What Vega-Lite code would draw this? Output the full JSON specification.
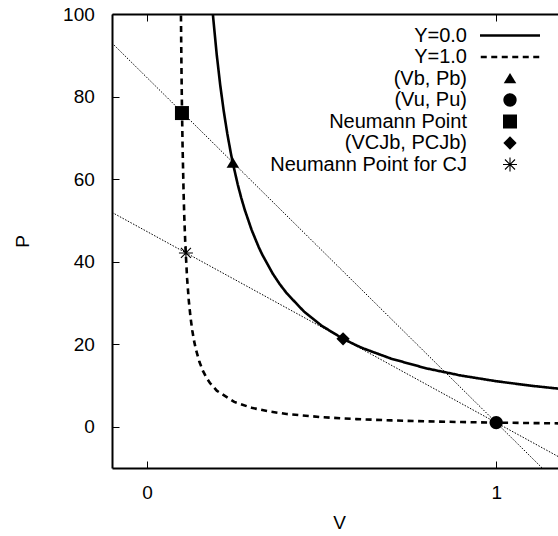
{
  "$schema": "https://vega.github.io/schema/vega-lite/v6.json",
  "width": 446,
  "height": 454,
  "autosize": {"type": "none"},
  "padding": {"left": 112, "top": 14, "right": 0, "bottom": 68},
  "background": "white",
  "config": {
    "view": {"stroke": null},
    "font": "Liberation Sans",
    "axis": {
      "grid": false,
      "domainColor": "black",
      "domainWidth": 2,
      "tickColor": "black",
      "tickWidth": 1,
      "tickSize": -7,
      "labelColor": "black",
      "labelFont": "Liberation Sans",
      "labelFontSize": 19,
      "labelFlush": false,
      "labelOverlap": false,
      "titleColor": "black",
      "titleFont": "Liberation Sans",
      "titleFontSize": 19,
      "titleFontWeight": "normal"
    }
  },
  "datasets": {
    "rayleigh": [
      {"line": "R1", "V": -0.1, "P": 92.96},
      {"line": "R1", "V": 1.2, "P": -15.72},
      {"line": "R2", "V": -0.1, "P": 51.93},
      {"line": "R2", "V": 1.2, "P": -8.26}
    ],
    "hugoniot": [
      {"series": "Y=0.0", "V": 0.188, "P": 100.8},
      {"series": "Y=0.0", "V": 0.19, "P": 98.84},
      {"series": "Y=0.0", "V": 0.2, "P": 90.05},
      {"series": "Y=0.0", "V": 0.21, "P": 82.69},
      {"series": "Y=0.0", "V": 0.22, "P": 76.44},
      {"series": "Y=0.0", "V": 0.23, "P": 71.07},
      {"series": "Y=0.0", "V": 0.24, "P": 66.41},
      {"series": "Y=0.0", "V": 0.246, "P": 63.89},
      {"series": "Y=0.0", "V": 0.26, "P": 58.69},
      {"series": "Y=0.0", "V": 0.27, "P": 55.47},
      {"series": "Y=0.0", "V": 0.28, "P": 52.59},
      {"series": "Y=0.0", "V": 0.3, "P": 47.63},
      {"series": "Y=0.0", "V": 0.32, "P": 43.53},
      {"series": "Y=0.0", "V": 0.33, "P": 41.73},
      {"series": "Y=0.0", "V": 0.36, "P": 37.12},
      {"series": "Y=0.0", "V": 0.38, "P": 34.58},
      {"series": "Y=0.0", "V": 0.4, "P": 32.36},
      {"series": "Y=0.0", "V": 0.45, "P": 27.88},
      {"series": "Y=0.0", "V": 0.5, "P": 24.49},
      {"series": "Y=0.0", "V": 0.56, "P": 21.37},
      {"series": "Y=0.0", "V": 0.6, "P": 19.7},
      {"series": "Y=0.0", "V": 0.62, "P": 18.96},
      {"series": "Y=0.0", "V": 0.7, "P": 16.47},
      {"series": "Y=0.0", "V": 0.8, "P": 14.14},
      {"series": "Y=0.0", "V": 0.9, "P": 12.39},
      {"series": "Y=0.0", "V": 1.0, "P": 11.03},
      {"series": "Y=0.0", "V": 1.1, "P": 9.93},
      {"series": "Y=0.0", "V": 1.2, "P": 9.03},
      {"series": "Y=1.0", "V": 0.0972, "P": 102.2},
      {"series": "Y=1.0", "V": 0.098, "P": 94.42},
      {"series": "Y=1.0", "V": 0.099, "P": 86.2},
      {"series": "Y=1.0", "V": 0.1, "P": 79.3},
      {"series": "Y=1.0", "V": 0.102, "P": 68.35},
      {"series": "Y=1.0", "V": 0.105, "P": 56.62},
      {"series": "Y=1.0", "V": 0.107, "P": 50.8},
      {"series": "Y=1.0", "V": 0.11, "P": 44.02},
      {"series": "Y=1.0", "V": 0.115, "P": 36.0},
      {"series": "Y=1.0", "V": 0.12, "P": 30.45},
      {"series": "Y=1.0", "V": 0.125, "P": 26.37},
      {"series": "Y=1.0", "V": 0.13, "P": 23.26},
      {"series": "Y=1.0", "V": 0.135, "P": 20.8},
      {"series": "Y=1.0", "V": 0.14, "P": 18.81},
      {"series": "Y=1.0", "V": 0.15, "P": 15.79},
      {"series": "Y=1.0", "V": 0.16, "P": 13.6},
      {"series": "Y=1.0", "V": 0.17, "P": 11.94},
      {"series": "Y=1.0", "V": 0.18, "P": 10.64},
      {"series": "Y=1.0", "V": 0.2, "P": 8.73},
      {"series": "Y=1.0", "V": 0.25, "P": 6.02},
      {"series": "Y=1.0", "V": 0.3, "P": 4.58},
      {"series": "Y=1.0", "V": 0.35, "P": 3.69},
      {"series": "Y=1.0", "V": 0.4, "P": 3.09},
      {"series": "Y=1.0", "V": 0.5, "P": 2.32},
      {"series": "Y=1.0", "V": 0.6, "P": 1.85},
      {"series": "Y=1.0", "V": 0.7, "P": 1.53},
      {"series": "Y=1.0", "V": 0.8, "P": 1.31},
      {"series": "Y=1.0", "V": 0.9, "P": 1.13},
      {"series": "Y=1.0", "V": 1.0, "P": 1.0},
      {"series": "Y=1.0", "V": 1.1, "P": 0.89},
      {"series": "Y=1.0", "V": 1.2, "P": 0.8}
    ],
    "points": [
      {"series": "(Vb, Pb)", "V": 0.246, "P": 63.9},
      {"series": "(Vu, Pu)", "V": 1.0, "P": 1.0},
      {"series": "Neumann Point", "V": 0.1003, "P": 76.0},
      {"series": "(VCJb, PCJb)", "V": 0.5616, "P": 21.3},
      {"series": "Neumann Point for CJ", "V": 0.1117, "P": 42.1}
    ]
  },
  "layer": [
    {
      "data": {"name": "rayleigh"},
      "mark": {"type": "line", "clip": true, "color": "black", "strokeWidth": 1, "strokeDash": [1.5, 1.5]},
      "encoding": {
        "x": {
          "field": "V", "type": "quantitative",
          "scale": {"domain": [-0.1, 1.177], "nice": false, "zero": false},
          "axis": {"orient": "bottom", "values": [0, 1], "format": "d", "title": "V", "titleX": 227, "titleY": 54, "titleBaseline": "middle", "labelPadding": 22}
        },
        "y": {
          "field": "P", "type": "quantitative",
          "scale": {"domain": [-10, 100], "nice": false, "zero": false},
          "axis": {"orient": "left", "values": [0, 20, 40, 60, 80, 100], "title": "P", "titleX": -90, "titleY": 227, "titleBaseline": "middle", "titleAlign": "center", "labelPadding": 24.7}
        },
        "detail": {"field": "line", "type": "nominal"}
      }
    },
    {
      "data": {"name": "hugoniot"},
      "mark": {"type": "line", "clip": true, "color": "black", "strokeWidth": 2.6},
      "encoding": {
        "x": {
          "field": "V", "type": "quantitative",
          "scale": {"domain": [-0.1, 1.177], "nice": false, "zero": false},
          "axis": {"orient": "top", "values": [0, 1], "labels": false, "title": null}
        },
        "y": {
          "field": "P", "type": "quantitative",
          "scale": {"domain": [-10, 100], "nice": false, "zero": false},
          "axis": {"orient": "left", "values": [0, 20, 40, 60, 80, 100], "title": "P", "titleX": -90, "titleY": 227, "titleBaseline": "middle", "titleAlign": "center", "labelPadding": 24.7}
        },
        "strokeDash": {
          "field": "series", "type": "nominal",
          "scale": {"domain": ["Y=0.0", "Y=1.0"], "range": [[1, 0], [6, 4.5]]},
          "legend": null
        }
      }
    },
    {
      "data": {"name": "points"},
      "mark": {"type": "point", "filled": true, "color": "black", "strokeWidth": 0, "size": 100, "opacity": 1},
      "encoding": {
        "x": {
          "field": "V", "type": "quantitative",
          "scale": {"domain": [-0.1, 1.177], "nice": false, "zero": false},
          "axis": null
        },
        "y": {
          "field": "P", "type": "quantitative",
          "scale": {"domain": [-10, 100], "nice": false, "zero": false},
          "axis": {"orient": "left", "values": [0, 20, 40, 60, 80, 100], "title": "P", "titleX": -90, "titleY": 227, "titleBaseline": "middle", "titleAlign": "center", "labelPadding": 24.7}
        },
        "shape": {
          "field": "series", "type": "nominal",
          "scale": {
            "domain": ["Y=0.0", "Y=1.0", "(Vb, Pb)", "(Vu, Pu)", "Neumann Point", "(VCJb, PCJb)", "Neumann Point for CJ"],
            "range": [
              "M-6,-0.25H6V0.25H-6Z",
              "M-5.85,-0.25H-4.65V0.25H-5.85Z M-3.75,-0.25H-2.55V0.25H-3.75Z M-1.65,-0.25H-0.45V0.25H-1.65Z M0.45,-0.25H1.65V0.25H0.45Z M2.55,-0.25H3.75V0.25H2.55Z M4.65,-0.25H5.85V0.25H4.65Z",
              "M0,-1.1L1.25,0.95L-1.25,0.95Z",
              "M-1.33,0A1.33,1.33 0 1,0 1.33,0A1.33,1.33 0 1,0 -1.33,0Z",
              "M-1.4,-1.4H1.4V1.4H-1.4Z",
              "M0,-1.33L1.33,0L0,1.33L-1.33,0Z",
              "M-1.4,-0.11H1.4V0.11H-1.4Z M-0.11,-1.4H0.11V1.4H-0.11Z M-0.92,-1.08L1.08,0.92L0.92,1.08L-1.08,-0.92Z M-1.08,0.92L0.92,-1.08L1.08,-0.92L-0.92,1.08Z"
            ]
          },
          "legend": {
            "title": null,
            "orient": "none",
            "legendX": 388,
            "legendY": 11.5,
            "direction": "vertical",
            "padding": 0,
            "rowPadding": 1.5,
            "symbolSize": 100,
            "symbolOpacity": 1,
            "symbolStrokeWidth": 0,
            "symbolFillColor": "black",
            "labelAlign": "right",
            "labelOffset": -53,
            "labelFont": "Liberation Sans",
            "labelFontSize": 20,
            "labelColor": "black",
            "labelLimit": 400,
            "encode": {
              "symbols": {
                "update": {
                  "fill": {"value": "black"},
                  "opacity": {"value": 1}
                }
              }
            }
          }
        }
      }
    }
  ],
  "resolve": {"axis": {"x": "independent"}}
}
